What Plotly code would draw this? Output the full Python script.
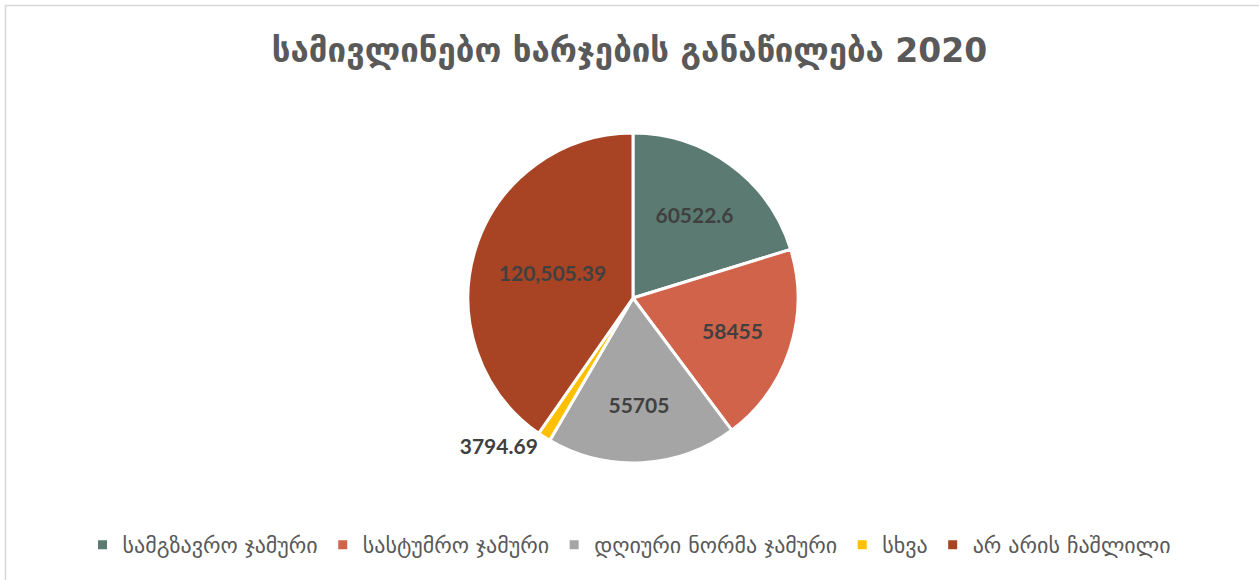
import plotly.graph_objects as go

labels = ["სამგზავრო ჯამური", "სასტუმრო ჯამური", "დღიური ნორმა ჯამური", "სხვა", "არ არის ჩაშლილი"]
values = [60522.6, 58455, 55705, 3794.69, 120505.39]
value_text = ["60522.6", "58455", "55705", "3794.69", "120,505.39"]
colors = ["#5B7B72", "#D1634A", "#A5A5A5", "#FFC000", "#A84424"]

W, H = 1259, 580
cx, cy, r = 633, 298, 165

fig = go.Figure(go.Pie(
    labels=labels,
    values=values,
    text=value_text,
    texttemplate="<b>%{text}</b>",
    textinfo="text",
    textposition=["inside", "inside", "inside", "outside", "inside"],
    insidetextorientation="horizontal",
    textfont=dict(family="Lato, DejaVu Sans", size=21, color="#404040"),
    marker=dict(colors=colors, line=dict(color="white", width=3)),
    sort=False,
    direction="clockwise",
    rotation=0,
    hoverinfo="skip",
    domain=dict(x=[(cx - r) / W, (cx + r) / W], y=[1 - (cy + r) / H, 1 - (cy - r) / H]),
))

fig.update_layout(
    width=W, height=H,
    margin=dict(l=0, r=0, t=0, b=0),
    paper_bgcolor="white",
    title=dict(
        text="<b>სამივლინებო ხარჯების განაწილება 2020</b>",
        x=0.5, xanchor="center", y=1 - 50 / H, yanchor="middle",
        font=dict(family="DejaVu Sans", size=33, color="#595959"),
    ),
    showlegend=True,
    legend=dict(
        orientation="h", x=0.5, xanchor="center", y=1 - 545 / H, yanchor="middle",
        font=dict(family="DejaVu Sans", size=22, color="#595959"),
        itemwidth=30, traceorder="normal",
    ),
    shapes=[dict(type="rect", xref="paper", yref="paper",
                 x0=5.5 / W, x1=1.01, y0=-0.01, y1=1 - 5.5 / H,
                 line=dict(color="#D9D9D9", width=1.5), fillcolor="rgba(0,0,0,0)")],
)

fig.write_html("out.html", config={"displayModeBar": False},
               post_script="document.body.style.margin='0';")
